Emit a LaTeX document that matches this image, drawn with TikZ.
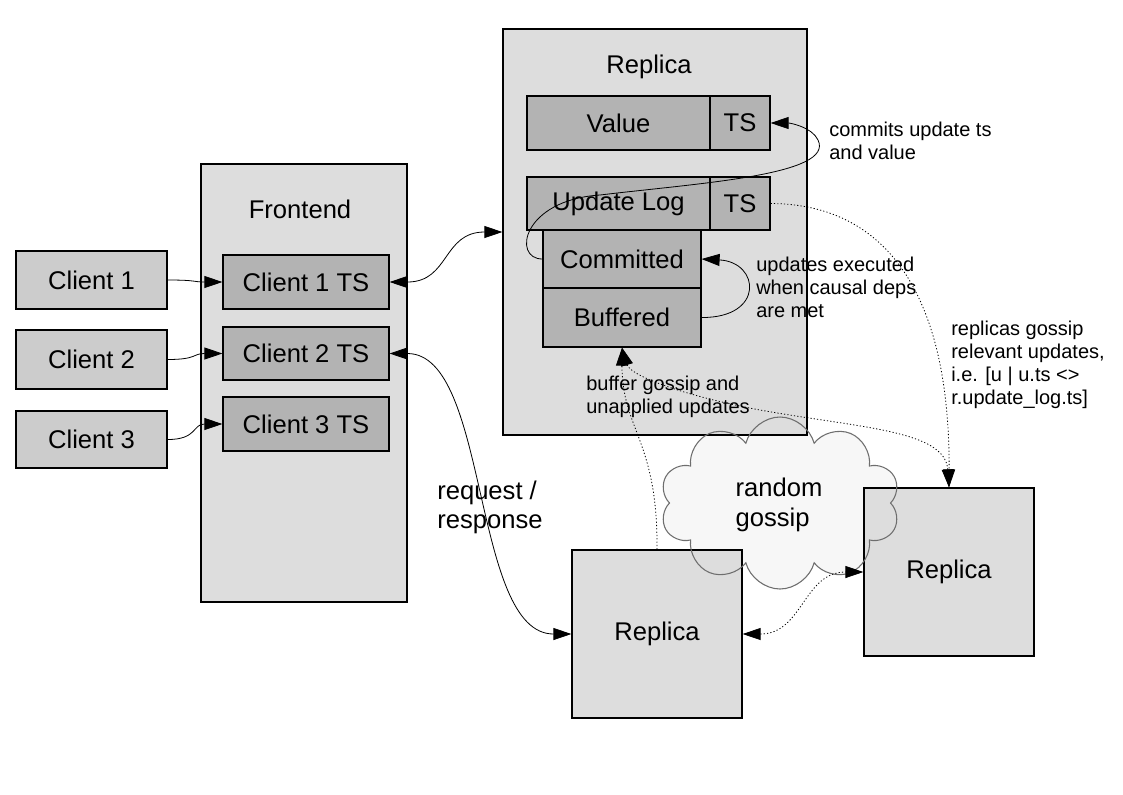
\documentclass[tikz,border=0pt]{standalone}
\usepackage{fontspec}
\setmainfont{Liberation Sans}
\usetikzlibrary{arrows.meta,shapes.symbols}
\definecolor{outerfill}{HTML}{DDDDDD}
\definecolor{clientfill}{HTML}{CCCCCC}
\definecolor{innerfill}{HTML}{B3B3B3}
\definecolor{cloudfill}{HTML}{F7F7F7}
\definecolor{cloudedge}{HTML}{6E6E6E}
\newcommand\bigtxt{\fontsize{19.2}{22}\selectfont}
\newcommand\smtxt{\fontsize{15}{17.25}\selectfont}
\begin{document}
\begin{tikzpicture}[x=0.75pt,y=-0.75pt,
  sz/.style 2 args={minimum width=#1*0.75pt,minimum height=#2*0.75pt},
  box/.style={draw=black,line width=0.9pt,inner sep=0pt,font=\bigtxt},
  outer/.style={box,fill=outerfill},
  clientbox/.style={box,fill=clientfill},
  inner/.style={box,fill=innerfill},
  title/.style={font=\bigtxt,inner sep=0pt},
  lab/.style={font=\smtxt,align=left,anchor=west,inner sep=0pt},
  biglab/.style={font=\bigtxt,align=left,anchor=west,inner sep=0pt},
  cloudshape/.style={cloud,cloud puffs=10,cloud ignores aspect,sz={240}{172},inner sep=0pt},
  >={Triangle[length=13.5pt,width=9pt]},
  conn/.style={line width=0.6pt,draw=black},
  dotconn/.style={conn,dash pattern=on 0.9pt off 1.6pt}]
\useasboundingbox (0,0) rectangle (1123,794);

% cloud background fill
\node[cloudshape,fill=cloudfill,draw=none] (cloudbg) at (780,503) {};

% Frontend
\node[outer,sz={206}{438}] (frontend) at (304,383) {};
\node[title] (fetitle) at (300,209) {Frontend};
\node[inner,sz={166}{54}] (ts1) at (306,282) {Client 1 TS};
\node[inner,sz={166}{53}] (ts2) at (306,353.5) {Client 2 TS};
\node[inner,sz={166}{54}] (ts3) at (306,424) {Client 3 TS};

% Clients
\node[clientbox,sz={151}{58}] (cl1) at (91.5,280) {Client 1};
\node[clientbox,sz={151}{59}] (cl2) at (91.5,359.5) {Client 2};
\node[clientbox,sz={151}{57}] (cl3) at (91.5,439.5) {Client 3};

% Main replica
\node[outer,sz={304}{406}] (rep) at (655,232) {};
\node[title] (reptitle) at (649,67) {Replica};
\node[inner,sz={183}{54}] (value) at (618.5,123) {Value};
\node[inner,sz={60}{54}] (vts) at (740,123) {TS};
\node[inner,sz={183}{53}] (ulog) at (618.5,203.5) {Update Log};
\node[inner,sz={60}{53}] (uts) at (740,203.5) {TS};
\node[inner,sz={158}{58}] (comm) at (622,259) {Committed};
\node[inner,sz={158}{59}] (buf) at (622,317.5) {Buffered};

% Other replicas
\node[outer,sz={170}{168}] (rep2) at (657,634) {Replica};
\node[outer,sz={170}{168}] (rep3) at (949,572) {Replica};

% cloud outline on top
\node[cloudshape,draw=cloudedge,line width=0.8pt] (cloud) at (780,503) {};
\node[biglab,anchor=center] (gossiptxt) at (779,505) {random\\gossip};

% labels
\node[lab] (lcommit) at (829,141) {commits update ts\\and value};
\node[lab] (lexec) at (756,287) {updates executed\\when causal deps\\are met};
\node[lab] (lrel) at (951,365) {replicas gossip\\relevant updates,\\i.e. [u | u.ts <>\\r.update\_log.ts]};
\node[lab] (lbuf) at (586,396.5) {buffer gossip and\\unapplied updates};
\node[biglab] (lreq) at (437,507.5) {request /\\response};

% waypoints
\coordinate (w1) at (600,195);
\coordinate (w2) at (818,140);
\coordinate (w3) at (760,410);

% connectors
\draw[conn,->] (cl1.east) .. controls +(30,0) and +(-30,0) .. (ts1.west);
\draw[conn,->] (cl2.east) .. controls +(30,0) and +(-30,0) .. (ts2.west);
\draw[conn,->] (cl3.east) .. controls +(30,0) and +(-30,0) .. (ts3.west);
\draw[conn,<->] (ts1.east) .. controls +(60,0) and +(-60,0) .. (rep.west);
\draw[conn,<->] (ts2.east) .. controls +(100,0) and +(-100,0) .. (rep2.west);
\draw[conn,->] (comm.west) .. controls (512,259) and (522,200) .. (w1)
   .. controls (700,183) and (835,175) .. (w2)
   .. controls (812,127) and (790,123) .. (vts.east);
\draw[conn,->] (buf.east) .. controls (765,318) and (760,262) .. (comm.east);
\draw[dotconn,->] (uts.east) .. controls (890,204) and (950,300) .. (rep3.north);
\draw[dotconn,->] (rep2.north) .. controls (658,440) and (622,430) .. (buf.south);
\draw[dotconn,<->] (buf.south) .. controls (630,375) and (680,395) .. (w3)
   .. controls (860,428) and (945,430) .. (rep3.north);
\draw[dotconn,<->] (rep2.east) .. controls +(60,0) and +(-60,0) .. (rep3.west);
\end{tikzpicture}
\end{document}
